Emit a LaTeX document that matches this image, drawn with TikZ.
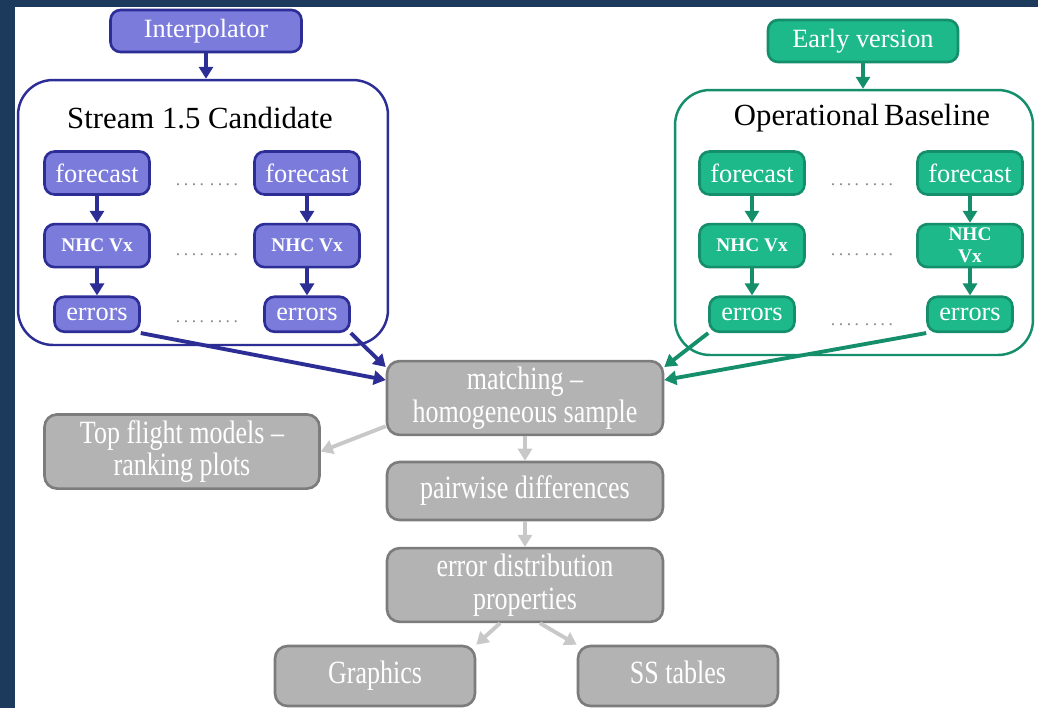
\documentclass[tikz,border=0pt]{standalone}
\usepackage{fontspec}
\setmainfont{Liberation Serif}
\newfontfamily\narrowfont[FakeStretch=0.8,Ligatures=TeX]{Liberation Serif}
\usetikzlibrary{arrows.meta,positioning}

\definecolor{framenavy}{HTML}{1B3A5C}
\definecolor{candfill}{HTML}{7B7BDC}
\definecolor{candline}{HTML}{2D2D96}
\definecolor{basefill}{HTML}{1DB98B}
\definecolor{baseline}{HTML}{158F6B}
\definecolor{greyfill}{HTML}{B3B3B3}
\definecolor{greyline}{HTML}{7C7C7C}
\definecolor{greyflow}{HTML}{C8C8C8}
\definecolor{dotgrey}{HTML}{8A8A8A}

\begin{document}
\begin{tikzpicture}[
      x=0.02cm, y=-0.02cm,
      node distance=5.4mm,
      cbox/.style={draw=candline, fill=candfill, line width=1.5pt, rounded corners=2mm,
      text=white, inner sep=1pt, align=center, minimum width=2.1cm, minimum height=8.6mm,
      font=\fontsize{15}{16}\selectfont},
      bbox/.style={cbox, draw=baseline, fill=basefill},
      vxtext/.style={font=\bfseries\fontsize{11}{12.5}\selectfont},
      errbox/.style={minimum width=1.7cm, minimum height=7mm},
      gbox/.style={draw=greyline, fill=greyfill, line width=1.5pt, rounded corners=2.5mm,
      text=white, align=center, minimum width=5.52cm,
      font=\narrowfont\fontsize{18.5}{18.5}\selectfont},
      group/.style={draw, line width=1.4pt, rounded corners=7mm},
      grouptitle/.style={font=\fontsize{17.5}{20}\selectfont},
      dotline/.style={text=dotgrey, font=\fontsize{10}{12}\selectfont},
      cflow/.style={-{Triangle[length=2.4mm,width=2.8mm]}, line width=2.2pt, draw=candline},
      bflow/.style={cflow, draw=baseline},
      gflow/.style={cflow, draw=greyflow}
    ]
    \useasboundingbox (0,0) rectangle (1038,708);
    \fill[framenavy] (0,0) rectangle (1038,708);
    \fill[white] (15,7) rectangle (1038,708);

    % candidate stream
    \node[group, draw=candline, minimum width=7.4cm, minimum height=5.3cm] (cand) at (203,212.5) {};
    \node[grouptitle] (candtitle) at (200,118) {Stream 1.5 Candidate};
    \node[cbox, minimum width=3.82cm, minimum height=8.4mm] (interp) at (206,31) {Interpolator};
    \node[cbox] (cfcA) at (97,173) {forecast};
    \node[cbox, vxtext, below=of cfcA] (cvxA) {NHC Vx};
    \node[cbox, errbox, below=of cvxA] (cerrA) {errors};
    \node[cbox] (cfcB) at (307,173) {forecast};
    \node[cbox, vxtext, below=of cfcB] (cvxB) {NHC Vx};
    \node[cbox, errbox, below=of cvxB] (cerrB) {errors};
    \node[dotline] (cdotA) at (207,185) {.\kern2pt.\kern2pt.\kern2pt. .\kern2pt.\kern2pt.\kern2pt.};
    \node[dotline] (cdotB) at (207,255) {.\kern2pt.\kern2pt.\kern2pt. .\kern2pt.\kern2pt.\kern2pt.};
    \node[dotline] (cdotC) at (207,322) {.\kern2pt.\kern2pt.\kern2pt. .\kern2pt.\kern2pt.\kern2pt.};

    % operational baseline
    \node[group, draw=baseline, minimum width=7.16cm, minimum height=5.3cm] (base) at (854,222.5) {};
    \node[grouptitle] (basetitle) at (862,118) {Operational\,Baseline};
    \node[bbox, minimum width=3.8cm, minimum height=8.4mm] (early) at (863,41) {Early version};
    \node[bbox] (bfcA) at (752,173) {forecast};
    \node[bbox, vxtext, below=of bfcA] (bvxA) {NHC Vx};
    \node[bbox, errbox, below=of bvxA] (berrA) {errors};
    \node[bbox] (bfcB) at (970,173) {forecast};
    \node[bbox, vxtext, below=of bfcB] (bvxB) {NHC\\Vx};
    \node[bbox, errbox, below=of bvxB] (berrB) {errors};
    \node[dotline] (bdotA) at (862,185) {.\kern2pt.\kern2pt.\kern2pt. .\kern2pt.\kern2pt.\kern2pt.};
    \node[dotline] (bdotB) at (862,255) {.\kern2pt.\kern2pt.\kern2pt. .\kern2pt.\kern2pt.\kern2pt.};
    \node[dotline] (bdotC) at (862,325) {.\kern2pt.\kern2pt.\kern2pt. .\kern2pt.\kern2pt.\kern2pt.};

    % evaluation chain
    \node[gbox, minimum height=1.4cm] (match) at (525,398) {matching –\\homogeneous sample};
    \node[gbox, minimum width=5.5cm, minimum height=1.34cm] (topmod) at (182,451.5) {Top flight models –\\ranking plots};
    \node[gbox, minimum height=1.16cm] (pairs) at (525,491) {pairwise differences};
    \node[gbox, minimum height=1.4cm] (errdist) at (525,585) {error distribution\\properties};
    \node[gbox, minimum width=4cm, minimum height=1.2cm, text depth=1.5mm] (graph) at (375,676) {Graphics};
    \node[gbox, minimum width=4cm, minimum height=1.2cm, text depth=1.5mm] (sstab) at (678,676) {SS tables};

    \draw[cflow] (interp.south) -- (interp.south |- cand.north);
    \draw[cflow] (cfcA) -- (cvxA);
    \draw[cflow] (cvxA) -- (cerrA);
    \draw[cflow] (cfcB) -- (cvxB);
    \draw[cflow] (cvxB) -- (cerrB);
    \draw[cflow] (cerrA.south east) -- ([yshift=0.36cm]match.west);
    \draw[cflow] (cerrB.south east) -- ([yshift=0.62cm]match.west);

    \draw[bflow] (early.south) -- (early.south |- base.north);
    \draw[bflow] (bfcA) -- (bvxA);
    \draw[bflow] (bvxA) -- (berrA);
    \draw[bflow] (bfcB) -- (bvxB);
    \draw[bflow] (bvxB) -- (berrB);
    \draw[bflow] (berrA.south west) -- ([yshift=0.62cm]match.east);
    \draw[bflow] (berrB.south west) -- ([yshift=0.36cm]match.east);

    \draw[gflow] ([yshift=0.2cm]match.south west) -- (topmod.east);
    \draw[gflow] (match) -- (pairs);
    \draw[gflow] (pairs) -- (errdist);
    \draw[gflow] ([xshift=-0.5cm]errdist.south) -- (graph.north east);
    \draw[gflow] ([xshift=0.3cm]errdist.south) -- (sstab.north west);
  \end{tikzpicture}
\end{document}
